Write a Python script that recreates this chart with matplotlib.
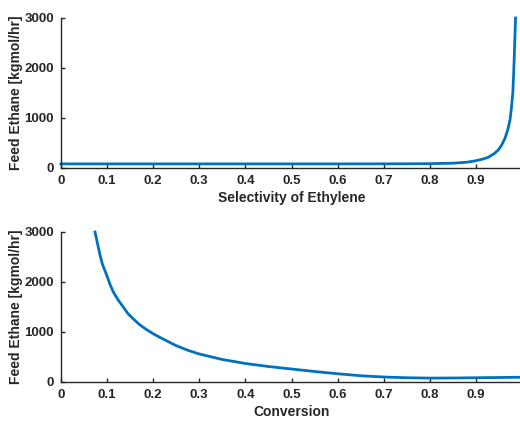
import matplotlib
matplotlib.use("Agg")
import matplotlib.pyplot as plt

plt.rcParams['font.family'] = ['Liberation Sans', 'DejaVu Sans']
plt.rcParams['font.weight'] = 'bold'

# Feed ethane vs selectivity of ethylene
selectivity = [0.0, 0.1, 0.2, 0.3, 0.4, 0.5, 0.6, 0.7, 0.75, 0.8, 0.85, 0.88, 0.9,
               0.915, 0.927, 0.94, 0.9486, 0.956, 0.963, 0.969, 0.974, 0.977,
               0.980, 0.9815, 0.983, 0.9845, 0.986]
feed_sel = [82, 82, 82, 82, 82, 82, 82, 83, 84, 87, 96, 115, 145,
            178, 215, 290, 360, 460, 593, 760, 960, 1200,
            1490, 1800, 2160, 2580, 3000]

# Feed ethane vs conversion
conversion = [0.0738, 0.0846, 0.09, 0.099, 0.106, 0.1135, 0.124, 0.135, 0.145,
              0.157, 0.17, 0.186, 0.2, 0.215, 0.23, 0.251, 0.275,
              0.3, 0.35, 0.4, 0.45, 0.5, 0.55, 0.6, 0.65, 0.7, 0.75, 0.8,
              0.85, 0.9, 0.95, 1.0]
feed_conv = [3000, 2540, 2350, 2140, 1960, 1800, 1640, 1500, 1370,
             1260, 1150, 1045, 965, 890, 820, 722, 635,
             560, 450, 370, 310, 260, 210, 165, 125, 100, 85, 78,
             80, 85, 90, 95]

blue = '#0072BD'
axc = '#262626'

fig = plt.figure(figsize=(5.2, 4.21), dpi=100)
W, H = 520, 421


def make_axes(top, bottom):
    ax = fig.add_axes([61 / W, 1 - bottom / H, (522 - 61) / W, (bottom - top) / H])
    ax.spines['top'].set_visible(False)
    ax.spines['right'].set_visible(False)
    for s in ('left', 'bottom'):
        ax.spines[s].set_color(axc)
        ax.spines[s].set_linewidth(1.0)
    ax.tick_params(direction='in', length=3, width=1, colors=axc,
                   labelsize=9.5, pad=5)
    ax.set_xlim(0, 1)
    ax.set_ylim(0, 3000)
    ax.set_xticks([0, 0.1, 0.2, 0.3, 0.4, 0.5, 0.6, 0.7, 0.8, 0.9])
    ax.set_xticklabels(['0', '0.1', '0.2', '0.3', '0.4', '0.5', '0.6', '0.7', '0.8', '0.9'])
    ax.set_yticks([0, 1000, 2000, 3000])
    for lab in ax.get_xticklabels() + ax.get_yticklabels():
        lab.set_fontweight('bold')
    ax.set_ylabel('Feed Ethane [kgmol/hr]', fontsize=10, fontweight='bold',
                  color=axc, labelpad=1)
    return ax


ax1 = make_axes(18, 168)
ax1.plot(selectivity, feed_sel, color=blue, linewidth=2, clip_on=False)
ax1.set_xlabel('Selectivity of Ethylene', fontsize=10, fontweight='bold',
               color=axc, labelpad=3)

ax2 = make_axes(232, 382)
ax2.plot(conversion, feed_conv, color=blue, linewidth=2, clip_on=False)
ax2.set_xlabel('Conversion', fontsize=10, fontweight='bold', color=axc, labelpad=3)

fig.savefig('out.png', dpi=100, facecolor='white')
